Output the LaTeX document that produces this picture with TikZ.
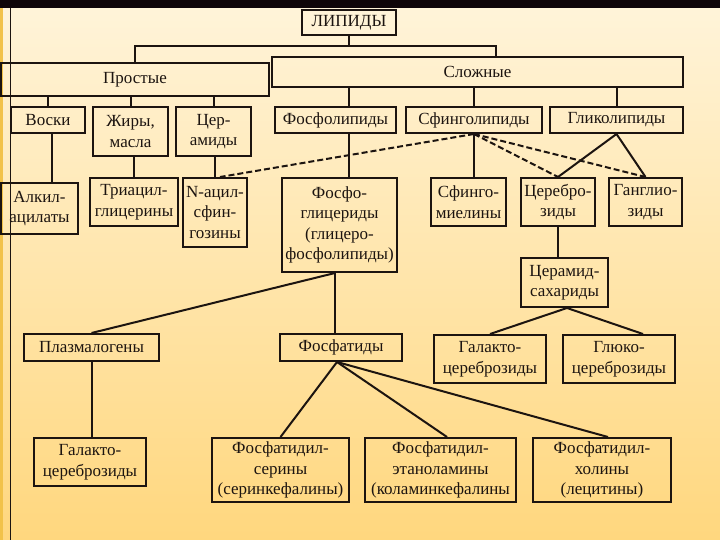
\documentclass[tikz,border=0pt]{standalone}
\usepackage{fontspec}
\setmainfont{Liberation Serif}
\usepackage{xcolor}
\definecolor{bgtop}{HTML}{FFF4DA}
\definecolor{bgbot}{HTML}{FFD77E}
\definecolor{inkdark}{HTML}{1C1410}
\definecolor{stripeyel}{HTML}{F2C24A}
\definecolor{bandtop}{HTML}{0E0509}
\usepackage{tikz}
\usetikzlibrary{positioning}

\begin{document}
\begin{tikzpicture}[
  x=1pt, y=-1pt,
  box/.style 2 args={
    draw=inkdark, line width=2pt,
    minimum width=#1, minimum height=#2,
    inner sep=0pt, align=center, text=inkdark,
    font=\fontsize{17}{20.5}\selectfont
  },
  link/.style={draw=inkdark, line width=2pt},
  dlink/.style={link, dash pattern=on 6pt off 3pt}
]

% ---- Fond ----
\useasboundingbox (0,0) rectangle (720,540);
\shade[top color=bgtop, bottom color=bgbot] (0,0) rectangle (720,540);
\fill[bandtop] (0,0) rectangle (720,8);
\fill[stripeyel] (0,8) rectangle (3,540);
\draw[inkdark, line width=1pt] (10,8) -- (10,540);

% ---- Niveau 0 et 1 ----
\node[box={94pt}{25pt}] (lip) at (349,22.5) {ЛИПИДЫ};
\node[box={268pt}{33pt}] (prost) at (135,79.5) {Простые};
\node[box={411pt}{30pt}] (slozh) at (477.5,72) {Сложные};

% ---- Niveau 2 ----
\node[box={74pt}{26pt}] (voski) at (48,120) {Воски};
\node[box={75pt}{49pt}] (zhiry) at (130.5,131.5) {Жиры,\\масла};
\node[box={75pt}{49pt}] (ceram) at (213.5,131.5) {Цер-\\амиды};
\node[box={121pt}{26pt}] (fosfolip) at (335.5,120) {Фосфолипиды};
\node[box={136pt}{26pt}] (sfingolip) at (474,120) {Сфинголипиды};
\node[box={133pt}{26pt}] (glikolip) at (616.5,120) {Гликолипиды};

% ---- Niveau 3 ----
\node[box={77pt}{51pt}] (alkil) at (39.5,208.5) {Алкил-\\ацилаты};
\node[box={88pt}{48pt}] (triacil) at (134,202) {Триацил-\\глицерины};
\node[box={64pt}{69pt}] (nacil) at (215,212.5) {N-ацил-\\сфин-\\гозины};
\node[box={115pt}{94pt}] (fosfoglic) at (339.5,225) {Фосфо-\\глицериды\\(глицеро-\\фосфолипиды)};
\node[box={75pt}{48pt}] (sfingom) at (468.5,202) {Сфинго-\\миелины};
\node[box={74pt}{48pt}] (cerebr) at (558,202) {Церебро-\\зиды};
\node[box={73pt}{48pt}] (gangl) at (645.5,202) {Ганглио-\\зиды};
\node[box={87pt}{49pt}] (ceramsah) at (564.5,282.5) {Церамид-\\сахариды};

% ---- Niveau 4 ----
\node[box={135pt}{27pt}] (plazm) at (91.5,347.5) {Плазмалогены};
\node[box={122pt}{27pt}] (fosfatid) at (341,347.5) {Фосфатиды};
\node[box={112pt}{48pt}] (galakto1) at (490,359) {Галакто-\\цереброзиды};
\node[box={112pt}{48pt}] (gluko) at (619,359) {Глюко-\\цереброзиды};

% ---- Niveau 5 ----
\node[box={112pt}{48pt}] (galakto2) at (90,462) {Галакто-\\цереброзиды};
\node[box={137pt}{64pt}] (fserin) at (280.5,470) {Фосфатидил-\\серины\\(серинкефалины)};
\node[box={151pt}{64pt}] (fetan) at (440.5,470) {Фосфатидил-\\этаноламины\\(коламинкефалины};
\node[box={138pt}{64pt}] (fholin) at (602,470) {Фосфатидил-\\холины\\(лецитины)};

% Liaisons du haut
\coordinate (jr) at (496,46);
\draw[link] (lip.south) -- (lip.south |- jr);
\draw[link] (prost.north) |- (jr) -- (jr |- slozh.north);

\foreach \n in {voski, zhiry, ceram}
  \draw[link] (\n.north) -- (\n.north |- prost.south);
\draw[link] ([xshift=13.5pt]fosfolip.north) -- ([xshift=13.5pt]fosfolip.north |- slozh.south);
\foreach \n in {sfingolip, glikolip}
  \draw[link] (\n.north) -- (\n.north |- slozh.south);

% Liaisons niveau 2 -> 3
\draw[link] ([xshift=4pt]voski.south) -- ([xshift=4pt]voski.south |- alkil.north);
\draw[link] (triacil.north) -- (triacil.north |- zhiry.south);
\draw[link] (nacil.north) -- (nacil.north |- ceram.south);
\draw[link] ([xshift=13.5pt]fosfolip.south) -- ([xshift=13.5pt]fosfolip.south |- fosfoglic.north);
\draw[link] (sfingolip.south) -- (sfingolip.south |- sfingom.north);
\draw[dlink] (sfingolip.south) -- ([xshift=5pt]nacil.north);
\foreach \n in {cerebr, gangl} {
  \draw[dlink] (sfingolip.south) -- (\n.north);
  \draw[link] (glikolip.south) -- (\n.north);
}

% Cérébrosides
\draw[link] (cerebr.south) -- (cerebr.south |- ceramsah.north);
\draw[link] ([xshift=2.5pt]ceramsah.south) -- (galakto1.north);
\draw[link] ([xshift=2.5pt]ceramsah.south) -- ([xshift=24pt]gluko.north);

% Phosphoglycérides
\draw[link] ([xshift=-4.5pt]fosfoglic.south) -- (plazm.north);
\draw[link] ([xshift=-4.5pt]fosfoglic.south) -- ([xshift=-6pt]fosfatid.north);
\draw[link] (plazm.south) -- (plazm.south |- galakto2.north);
\draw[link] ([xshift=-4pt]fosfatid.south) -- (fserin.north);
\draw[link] ([xshift=-4pt]fosfatid.south) -- ([xshift=6.5pt]fetan.north);
\draw[link] ([xshift=-4pt]fosfatid.south) -- ([xshift=6pt]fholin.north);

\end{tikzpicture}
\end{document}
